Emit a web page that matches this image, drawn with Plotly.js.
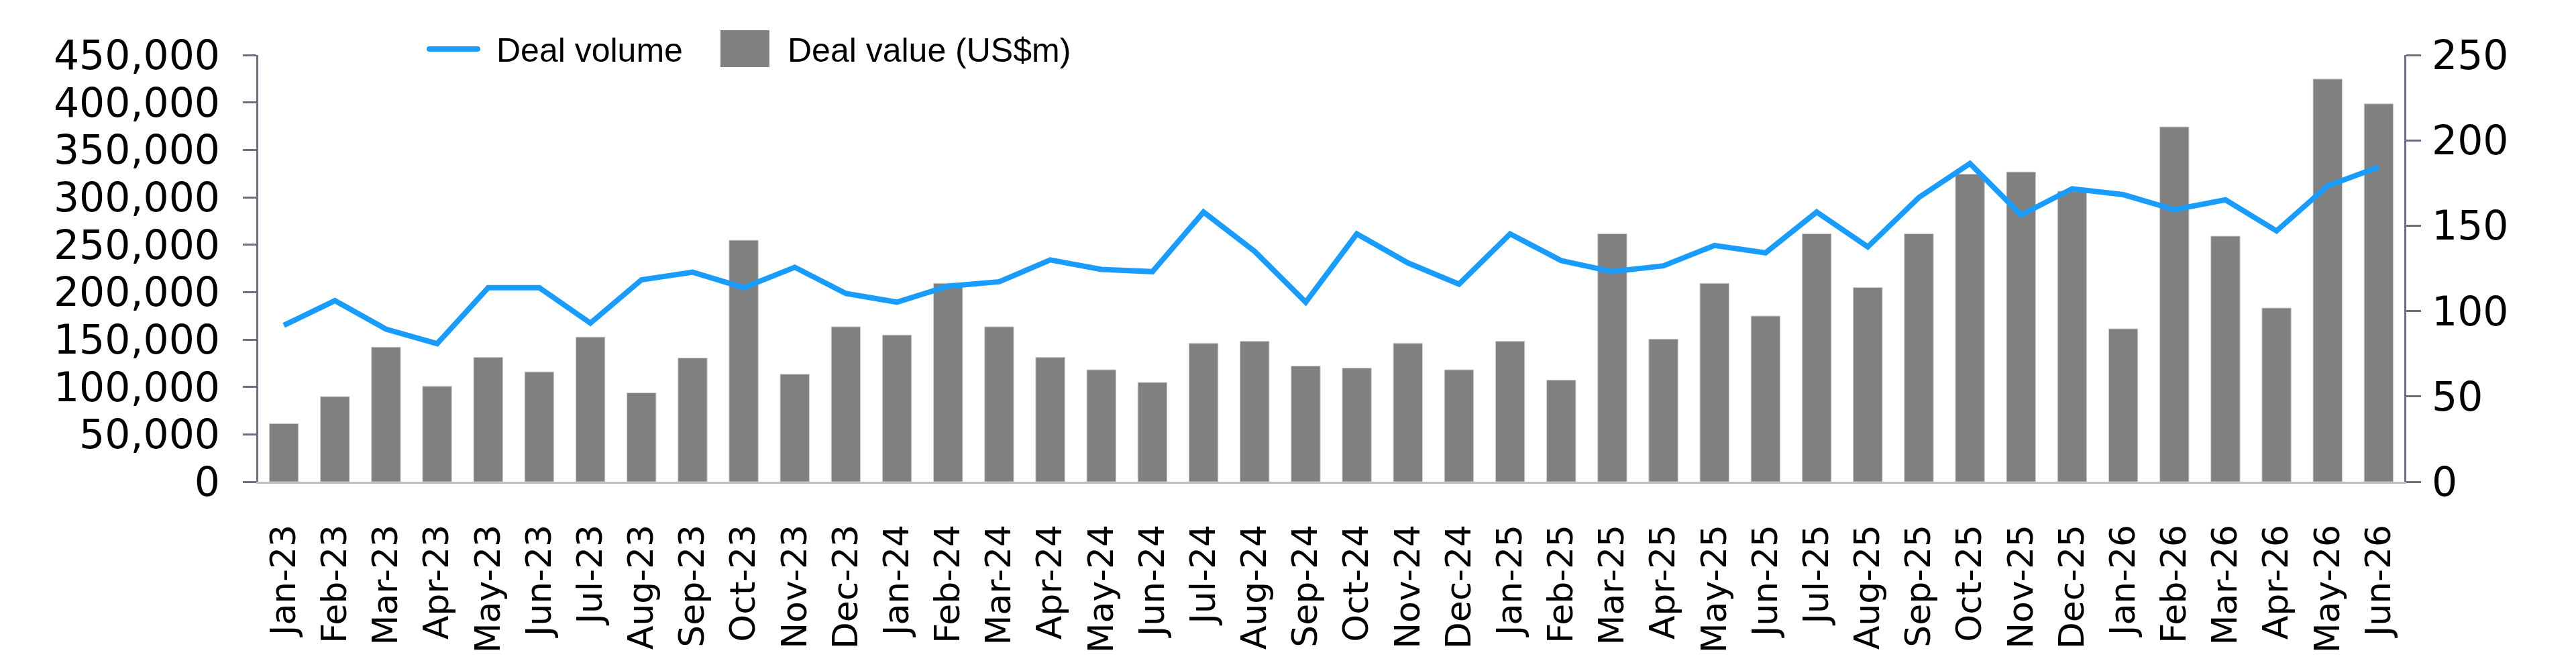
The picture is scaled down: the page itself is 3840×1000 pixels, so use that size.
<!DOCTYPE html>
<html>
<head>
<meta charset="utf-8">
<script src="https://cdn.plot.ly/plotly-3.0.1.min.js"></script>
<style>
  html, body { margin: 0; padding: 0; background: #ffffff; }
  #chart { width: 3840px; height: 1000px; }
</style>
</head>
<body>
<div id="chart"></div>
<script>
const months = ["Jan-23","Feb-23","Mar-23","Apr-23","May-23","Jun-23","Jul-23","Aug-23","Sep-23","Oct-23","Nov-23","Dec-23",
  "Jan-24","Feb-24","Mar-24","Apr-24","May-24","Jun-24","Jul-24","Aug-24","Sep-24","Oct-24","Nov-24","Dec-24",
  "Jan-25","Feb-25","Mar-25","Apr-25","May-25","Jun-25","Jul-25","Aug-25","Sep-25","Oct-25","Nov-25","Dec-25",
  "Jan-26","Feb-26","Mar-26","Apr-26","May-26","Jun-26"];

const dealVolume = [164900,191000,160900,145600,204700,204700,167300,213000,221000,204700,226200,198600,
  189400,206300,210900,233900,224000,221600,284400,243000,189400,261400,230800,208400,
  261400,233200,221600,227700,249200,241500,284400,247700,299800,335600,281400,309000,
  302800,286900,297300,264500,312000,331900];

const dealValue = [34.1,49.9,78.9,55.9,72.9,64.4,84.8,52.1,72.5,141.5,63.0,90.8,
  86.0,116.3,90.8,72.9,65.6,58.2,81.1,82.3,67.8,66.6,81.1,65.6,
  82.3,59.6,145.3,83.6,116.3,97.1,145.3,113.8,145.3,180.2,181.5,170.2,
  89.6,207.9,143.9,101.8,235.9,221.4];

const leftTicks = [0,50000,100000,150000,200000,250000,300000,350000,400000,450000];
const rightTicks = [0,50,100,150,200,250];

const tickFontFamily = "DejaVu Sans, Verdana, sans-serif";
const axisColor = "#6e6e80";

const traces = [
  {
    type: "scatter",
    mode: "lines",
    name: "Deal volume",
    x: months,
    y: dealVolume,
    yaxis: "y2",
    line: { color: "#1a9cff", width: 8 },
    hoverinfo: "x+y"
  },
  {
    type: "bar",
    name: "Deal value (US$m)",
    x: months,
    y: dealValue,
    yaxis: "y",
    marker: { color: "#808080", line: { color: "#d0d0d0", width: 1 } },
    hoverinfo: "x+y"
  }
];

const layout = {
  width: 3840,
  height: 1000,
  margin: { l: 385, r: 256, t: 82, b: 282, pad: 0 },
  paper_bgcolor: "#ffffff",
  plot_bgcolor: "#ffffff",
  showlegend: true,
  bargap: 0.43,
  xaxis: {
    type: "category",
    showline: true,
    linecolor: "#c0c0c0",
    linewidth: 3,
    ticks: "",
    tickangle: -90,
    tickfont: { family: tickFontFamily, size: 52, color: "#000000" },
    ticklabelstandoff: 40,
    showgrid: false,
    zeroline: false,
    automargin: false
  },
  yaxis: {
    side: "right",
    range: [0, 250],
    tickvals: rightTicks,
    showline: true,
    linecolor: axisColor,
    linewidth: 3,
    ticks: "outside",
    ticklen: 22,
    tickwidth: 3,
    tickcolor: axisColor,
    tickfont: { family: tickFontFamily, size: 60, color: "#000000" },
    ticklabelstandoff: 4,
    showgrid: false,
    zeroline: false,
    automargin: false
  },
  yaxis2: {
    side: "left",
    overlaying: "y",
    range: [0, 450000],
    tickvals: leftTicks,
    tickformat: ",d",
    showline: true,
    linecolor: axisColor,
    linewidth: 3,
    ticks: "outside",
    ticklen: 20,
    tickwidth: 3,
    tickcolor: axisColor,
    tickfont: { family: tickFontFamily, size: 60, color: "#000000" },
    ticklabelstandoff: 22,
    showgrid: false,
    zeroline: false,
    automargin: false
  },
  legend: {
    orientation: "h",
    x: 0.0797,
    xanchor: "left",
    y: 1.0142,
    yanchor: "middle",
    font: { family: "Liberation Sans, Arial, sans-serif", size: 50, color: "#000000" },
    bgcolor: "rgba(0,0,0,0)",
    itemwidth: 90,
    entrywidth: 329,
    entrywidthmode: "pixels",
    borderwidth: 0
  }
};

Plotly.newPlot("chart", traces, layout, { staticPlot: true, displayModeBar: false }).then(function () {
  const legend = document.querySelector("#chart .legend");
  if (legend) {
    legend.querySelectorAll("[clip-path]").forEach(function (el) { el.removeAttribute("clip-path"); });
  }
  const items = document.querySelectorAll("#chart .legend .traces");
  items.forEach(function (tr, i) {
    if (i === 0) {
      tr.querySelectorAll("path.js-line").forEach(function (p) {
        p.setAttribute("d", "M0,0h72");
        p.style.strokeWidth = "8px";
        p.style.strokeLinecap = "round";
      });
    } else {
      tr.querySelectorAll(".legendpoints path, path.legendundefined").forEach(function (p) {
        p.setAttribute("d", "M0,-28H73V27H0Z");
        p.setAttribute("transform", "");
        p.style.strokeWidth = "0px";
      });
    }
  });
});
</script>
</body>
</html>
